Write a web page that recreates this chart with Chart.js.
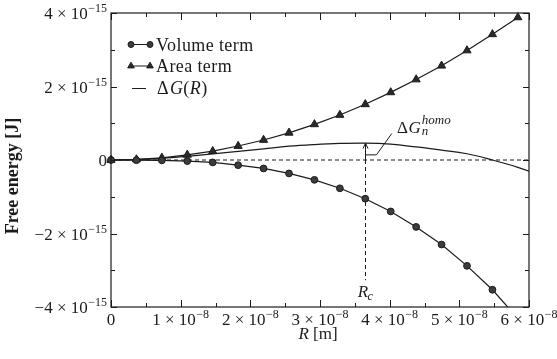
<!DOCTYPE html>
<html>
<head>
<meta charset="utf-8">
<script src="https://cdn.jsdelivr.net/npm/chart.js@4.4.1/dist/chart.umd.min.js"></script>
<style>
    html, body { margin: 0; padding: 0; background: #ffffff; }
    #wrap { width: 557px; height: 359px; }
</style>
</head>
<body>
<div id="wrap"><canvas id="chartEnergy" width="557" height="359"></canvas></div>
<script>
// nucleus radius R, in units of 1e-8 m
const radius = [0, 0.365, 0.73, 1.095, 1.46, 1.825, 2.19, 2.555, 2.92, 3.285,
                3.65, 4.015, 4.38, 4.745, 5.11, 5.475, 5.84, 6.205];

// energies in units of 1e-15 J
const volumeTerm = [0, -0.005, -0.01, -0.03, -0.065, -0.14, -0.23, -0.365, -0.54, -0.77,
                    -1.053, -1.40, -1.82, -2.30, -2.88, -3.53, -4.31];
const areaTerm = [0, 0.015, 0.06, 0.14, 0.24, 0.38, 0.545, 0.74, 0.97, 1.225,
                  1.515, 1.84, 2.19, 2.565, 2.98, 3.42, 3.88];
const deltaG = [0, 0.01, 0.045, 0.10, 0.165, 0.235, 0.305, 0.375, 0.42, 0.45,
                0.46, 0.43, 0.355, 0.27, 0.17, 0.0, -0.20, -0.44];

const criticalRadius = 3.65;
const barrierHeight = 0.46;

// axis ticks
const xMajorTicks = [0, 1, 2, 3, 4, 5, 6];
const xMinorTicks = [0.5, 1.5, 2.5, 3.5, 4.5, 5.5];
const xTickLabels = ['0', '1 × 10', '2 × 10', '3 × 10', '4 × 10', '5 × 10', '6 × 10'];
const xTickExponents = ['', '−8', '−8', '−8', '−8', '−8', '−8'];

const yMajorTicks = [-4, -2, 0, 2, 4];
const yMinorTicks = [-3, -1, 1, 3];
const yTickLabels = ['−4 × 10', '−2 × 10', '0', '2 × 10', '4 × 10'];
const yTickExponents = ['−15', '−15', '', '−15', '−15'];

const ink = '#1b1b1b';
const serif = '"Liberation Serif", "DejaVu Serif", serif';
const fontRoman = `17px ${serif}`;
const fontItalic = `italic 17px ${serif}`;
const fontLegend = `18px ${serif}`;
const fontLegendItalic = `italic 18px ${serif}`;
const fontTick = `17px ${serif}`;
const fontSup = `12px ${serif}`;
const fontSmallItalic = `italic 12px ${serif}`;

function toPoints(values) {
    return values.map((y, i) => ({ x: radius[i], y: y }));
}

// draws a row of text pieces with their own fonts and baseline shifts
function drawPieces(ctx, pieces, x, y, align) {
    let total = 0;
    pieces.forEach(p => {
        ctx.font = p.font;
        p.w = ctx.measureText(p.text).width;
        total += p.w + (p.dx || 0);
    });
    let cx = align === 'right' ? x - total : align === 'center' ? x - total / 2 : x;
    pieces.forEach(p => {
        ctx.font = p.font;
        cx += p.dx || 0;
        ctx.fillText(p.text, cx, y + (p.dy || 0));
        cx += p.w;
    });
}

function tickPieces(label, exponent) {
    const pieces = [{ text: label, font: fontTick }];
    if (exponent) pieces.push({ text: exponent, font: fontSup, dy: -7, dx: 0.5 });
    return pieces;
}

function drawCircle(ctx, x, y, r) {
    ctx.beginPath();
    ctx.arc(x, y, r, 0, Math.PI * 2);
    ctx.fillStyle = '#3c3c3c';
    ctx.fill();
    ctx.strokeStyle = ink;
    ctx.lineWidth = 1;
    ctx.stroke();
}

function drawTriangle(ctx, x, y, r) {
    ctx.beginPath();
    ctx.moveTo(x, y - r);
    ctx.lineTo(x + r * 0.866, y + r * 0.5);
    ctx.lineTo(x - r * 0.866, y + r * 0.5);
    ctx.closePath();
    ctx.fillStyle = '#2a2a2a';
    ctx.fill();
    ctx.strokeStyle = ink;
    ctx.lineWidth = 1;
    ctx.stroke();
}

const annotations = {
    id: 'annotations',
    beforeDatasetsDraw(chart) {
        const { ctx, scales: { x, y } } = chart;
        ctx.save();
        ctx.strokeStyle = ink;
        ctx.lineWidth = 1;

        // zero level
        ctx.setLineDash([4, 3]);
        ctx.beginPath();
        ctx.moveTo(x.getPixelForValue(0), y.getPixelForValue(0));
        ctx.lineTo(x.getPixelForValue(6), y.getPixelForValue(0));
        ctx.stroke();

        // critical radius
        const xc = Math.round(x.getPixelForValue(criticalRadius)) + 0.5;
        ctx.beginPath();
        ctx.moveTo(xc, y.getPixelForValue(0));
        ctx.lineTo(xc, y.getPixelForValue(-3.27));
        ctx.stroke();
        ctx.setLineDash([]);

        // barrier arrow
        const yTop = y.getPixelForValue(barrierHeight);
        ctx.beginPath();
        ctx.moveTo(xc, y.getPixelForValue(0));
        ctx.lineTo(xc, yTop);
        ctx.moveTo(xc - 2.5, yTop + 5.5);
        ctx.lineTo(xc, yTop);
        ctx.lineTo(xc + 2.5, yTop + 5.5);
        ctx.stroke();

        // leader to the label
        ctx.beginPath();
        ctx.moveTo(xc, y.getPixelForValue(0.14));
        ctx.lineTo(x.getPixelForValue(criticalRadius + 0.16), y.getPixelForValue(0.14));
        ctx.lineTo(x.getPixelForValue(criticalRadius + 0.38), y.getPixelForValue(0.72));
        ctx.stroke();
        ctx.restore();
    },
    afterDatasetsDraw(chart) {
        const { ctx, chartArea: area, scales: { x, y } } = chart;
        ctx.save();

        // frame with inward ticks
        ctx.strokeStyle = ink;
        ctx.lineWidth = 1.2;
        ctx.strokeRect(area.left, area.top, area.right - area.left, area.bottom - area.top);
        ctx.lineWidth = 1;
        ctx.beginPath();
        const xTick = (v, len) => {
            const px = Math.round(x.getPixelForValue(v)) + 0.5;
            ctx.moveTo(px, area.bottom); ctx.lineTo(px, area.bottom - len);
            ctx.moveTo(px, area.top); ctx.lineTo(px, area.top + len);
        };
        const yTick = (v, len) => {
            const py = Math.round(y.getPixelForValue(v)) + 0.5;
            ctx.moveTo(area.left, py); ctx.lineTo(area.left + len, py);
            ctx.moveTo(area.right, py); ctx.lineTo(area.right - len, py);
        };
        xMajorTicks.forEach(v => xTick(v, 7));
        xMinorTicks.forEach(v => xTick(v, 4));
        yMajorTicks.forEach(v => yTick(v, 6));
        yMinorTicks.forEach(v => yTick(v, 4));
        ctx.stroke();

        // tick labels
        ctx.fillStyle = ink;
        ctx.textBaseline = 'alphabetic';
        xMajorTicks.forEach((v, i) => {
            drawPieces(ctx, tickPieces(xTickLabels[i], xTickExponents[i]),
                x.getPixelForValue(v), area.bottom + 18, 'center');
        });
        yMajorTicks.forEach((v, i) => {
            drawPieces(ctx, tickPieces(yTickLabels[i], yTickExponents[i]),
                area.left - 4, y.getPixelForValue(v) + 6, 'right');
        });

        // axis titles
        drawPieces(ctx, [
            { text: 'R', font: fontItalic },
            { text: ' [m]', font: fontRoman }
        ], (area.left + area.right) / 2 - 2, 338.5, 'center');

        ctx.save();
        ctx.translate(18, 176);
        ctx.rotate(-Math.PI / 2);
        ctx.font = `bold 18px ${serif}`;
        ctx.textAlign = 'center';
        ctx.fillText('Free energy [J]', 0, 0);
        ctx.restore();
        ctx.textAlign = 'left';

        // R_c label
        const xc = x.getPixelForValue(criticalRadius);
        drawPieces(ctx, [
            { text: 'R', font: fontItalic },
            { text: 'c', font: fontSmallItalic, dy: 3.5, dx: -0.5 }
        ], xc, y.getPixelForValue(-3.725), 'center');

        // barrier label
        const lx = x.getPixelForValue(criticalRadius + 0.456);
        const ly = y.getPixelForValue(0.735);
        ctx.font = fontRoman;
        ctx.fillText('Δ', lx, ly);
        const dw = ctx.measureText('Δ').width;
        ctx.font = fontItalic;
        ctx.fillText('G', lx + dw + 0.5, ly);
        const gx = lx + dw + 0.5 + ctx.measureText('G').width;
        ctx.font = `italic 13px ${serif}`;
        ctx.fillText('homo', gx + 1, ly - 8.5);
        ctx.fillText('n', gx + 1, ly + 2.5);

        // legend
        const lineL = 131, lineR = 150, textX = 156;
        const rows = [44.5, 66, 88.5];
        ctx.strokeStyle = ink;
        ctx.lineWidth = 1.2;
        ctx.beginPath();
        ctx.moveTo(lineL, rows[0]); ctx.lineTo(lineR, rows[0]);
        ctx.moveTo(lineL, rows[1]); ctx.lineTo(lineR, rows[1]);
        ctx.moveTo(lineL + 1, rows[2]); ctx.lineTo(lineR - 4, rows[2]);
        ctx.stroke();
        drawCircle(ctx, lineL, rows[0], 3);
        drawCircle(ctx, lineR, rows[0], 3);
        drawTriangle(ctx, lineL, rows[1], 3.8);
        drawTriangle(ctx, lineR, rows[1], 3.8);

        ctx.fillStyle = ink;
        ctx.letterSpacing = '0.4px';
        drawPieces(ctx, [{ text: 'Volume term', font: fontLegend }], textX, rows[0] + 6, 'left');
        drawPieces(ctx, [{ text: 'Area term', font: fontLegend }], textX, rows[1] + 6, 'left');
        drawPieces(ctx, [
            { text: 'Δ', font: fontLegend },
            { text: 'G', font: fontLegendItalic, dx: 1 },
            { text: '(', font: fontLegend },
            { text: 'R', font: fontLegendItalic },
            { text: ')', font: fontLegend }
        ], textX + 1, rows[2] + 5.5, 'left');
        ctx.letterSpacing = '0px';

        ctx.restore();
    }
};

function buildChart() {
    const ctx = document.getElementById('chartEnergy').getContext('2d');
    new Chart(ctx, {
        type: 'scatter',
        data: {
            datasets: [
                {
                    label: 'Volume term',
                    data: toPoints(volumeTerm),
                    showLine: true,
                    borderColor: ink,
                    borderWidth: 1.2,
                    pointStyle: 'circle',
                    pointRadius: 3.4,
                    pointBackgroundColor: '#3c3c3c',
                    pointBorderColor: ink,
                    pointBorderWidth: 1,
                    tension: 0,
                    clip: { left: 10, top: 10, right: 10, bottom: 0 }
                },
                {
                    label: 'Area term',
                    data: toPoints(areaTerm),
                    showLine: true,
                    borderColor: ink,
                    borderWidth: 1.2,
                    pointStyle: 'triangle',
                    pointRadius: 4.7,
                    pointBackgroundColor: '#2a2a2a',
                    pointBorderColor: ink,
                    pointBorderWidth: 1,
                    tension: 0,
                    clip: { left: 10, top: 10, right: 10, bottom: 0 }
                },
                {
                    label: 'ΔG(R)',
                    data: toPoints(deltaG),
                    showLine: true,
                    borderColor: ink,
                    borderWidth: 1.2,
                    pointRadius: 0,
                    tension: 0.4,
                    clip: 0
                }
            ]
        },
        options: {
            responsive: false,
            animation: false,
            devicePixelRatio: 1,
            layout: { padding: { left: 111, top: 13, right: 28, bottom: 52 } },
            scales: {
                x: {
                    type: 'linear', min: 0, max: 6,
                    ticks: { display: false },
                    grid: { display: false, drawTicks: false },
                    border: { display: false }
                },
                y: {
                    type: 'linear', min: -4, max: 4,
                    ticks: { display: false },
                    grid: { display: false, drawTicks: false },
                    border: { display: false }
                }
            },
            plugins: {
                legend: { display: false },
                tooltip: { enabled: false }
            }
        },
        plugins: [annotations]
    });
}

buildChart();
</script>
</body>
</html>
